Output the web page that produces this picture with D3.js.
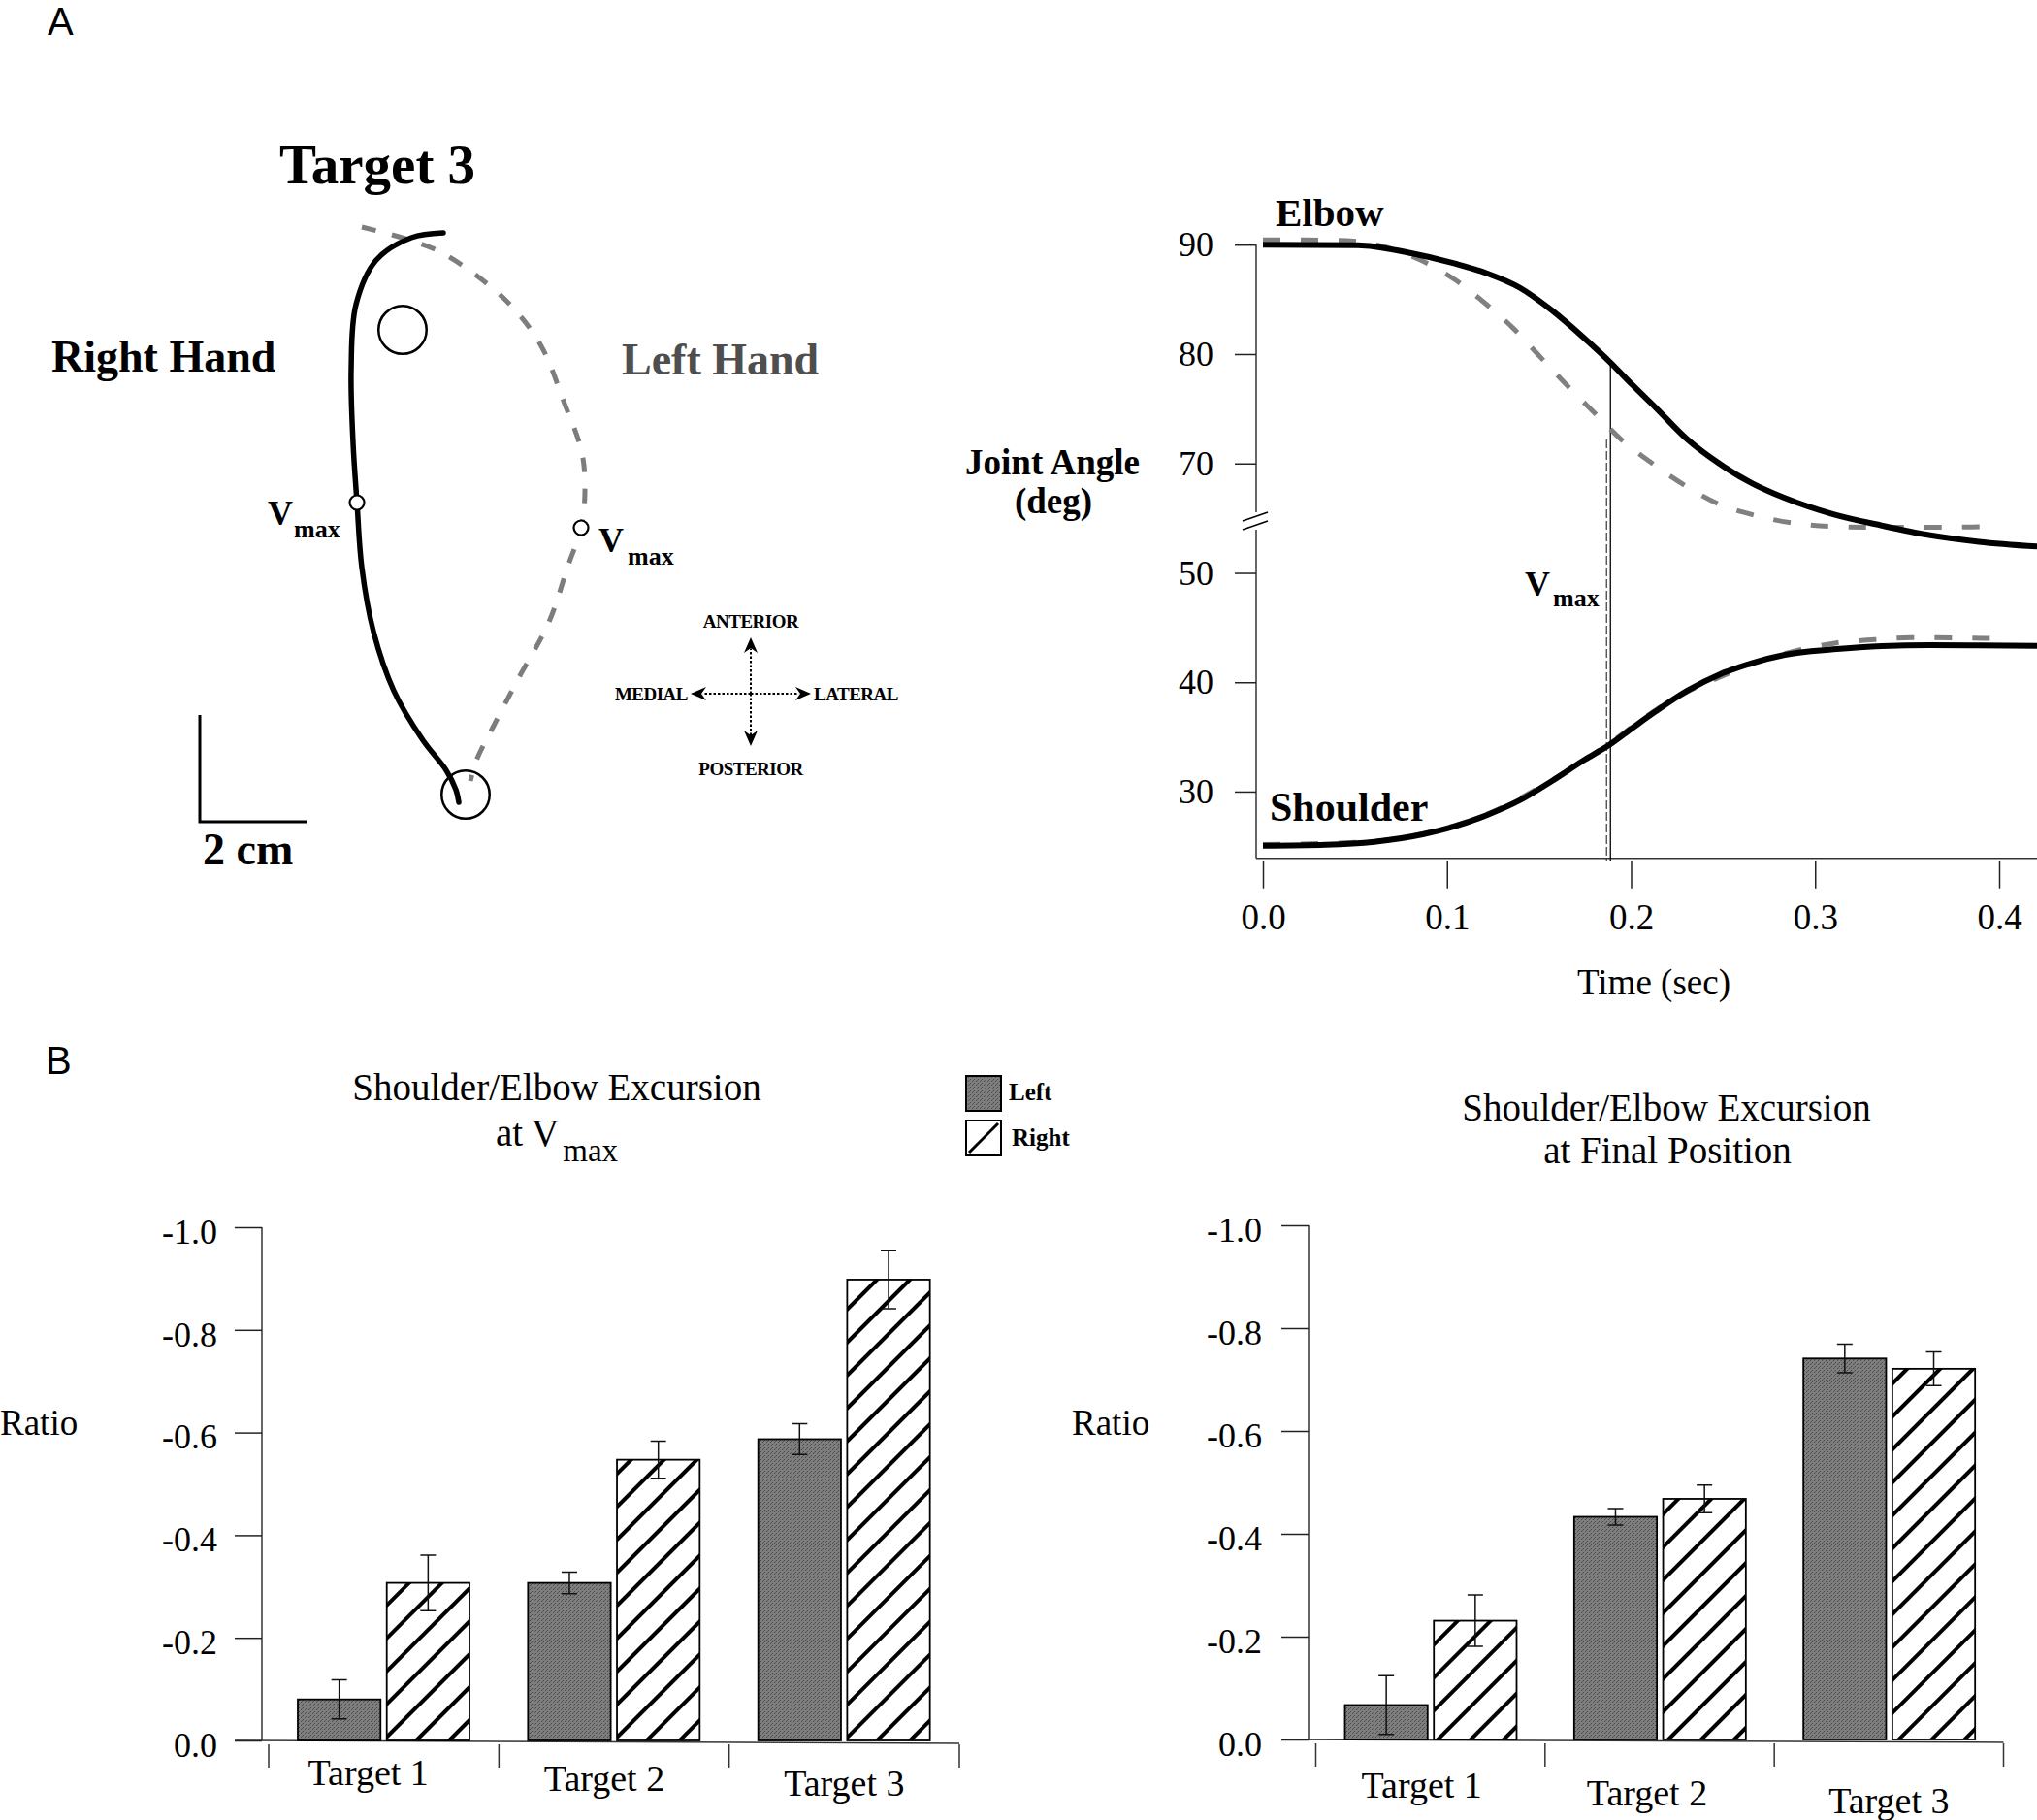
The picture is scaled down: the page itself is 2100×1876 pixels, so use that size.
<!DOCTYPE html>
<html><head><meta charset="utf-8">
<script src="https://cdn.jsdelivr.net/npm/d3@7"></script>
<style>html,body{margin:0;padding:0;background:#fff}</style>
</head><body>
<svg id="c" width="2100" height="1876"></svg>
<script>
// ---------------- DATA ----------------
// Panel A (left): hand paths in cm, origin = start target
const rightHandPath = [[-0.418,10.527],[-1.018,10.436],[-1.673,10.018],[-2.055,9.182],[-2.145,7.964],[-2.109,6.582],[-2.036,5.473],[-1.945,4.255],[-1.727,3.055],[-1.345,1.945],[-0.8,1.018],[-0.364,0.455],[-0.182,0.091],[-0.127,-0.145]];
const leftHandPath = [[-1.945,10.636],[-1.018,10.382],[-0.364,10.109],[0.745,9.273],[1.4,8.436],[1.855,7.327],[2.182,6.4],[2.236,5.655],[2.164,5.0],[1.909,4.255],[1.564,3.236],[0.964,2.127],[0.527,1.291],[0.2,0.636],[0.091,0.255]];
const targetPos = [-1.182, 8.709];
const startPos = [0, 0];
const targetRadiusCm = 0.45;
const rightVmaxPos = [-2.036, 5.473];
const leftVmaxPos = [2.164, 5.0];
const scaleBarCm = 2;

// Panel A (right): joint angles vs time [sec, deg]
const timeTicks = [0, 0.1, 0.2, 0.3, 0.4];
const angleTicks = [30, 40, 50, 70, 80, 90];
const elbowRight = [[0,90.0],[.0516,89.96],[.078,89.31],[.1043,88.27],[.1217,87.38],[.1397,86.05],[.157,83.99],[.1744,81.48],[.1886,79.26],[.2007,77.19],[.2133,75.12],[.2308,72.17],[.2483,69.95],[.2659,68.17],[.2835,66.85],[.3099,65.36],[.3362,64.33],[.3626,63.44],[.3889,62.85],[.4206,62.41]];
const elbowLeft = [[0,90.45],[.041,90.4],[.0859,88.57],[.1043,86.8],[.1202,84.72],[.136,82.36],[.1509,79.7],[.1658,77.04],[.1798,74.68],[.1948,72.17],[.2114,70.02],[.229,68.02],[.2483,66.25],[.2686,65.21],[.2887,64.54],[.3099,64.24],[.331,64.18],[.352,64.18],[.3714,64.18],[.3967,64.24]];
const shoulderRight = [[0,25.05],[.0341,25.14],[.0605,25.41],[.0868,26.09],[.1043,26.83],[.1219,27.87],[.1395,29.2],[.157,30.97],[.1746,32.9],[.1878,34.23],[.201,35.85],[.2133,37.33],[.2308,39.25],[.2484,40.73],[.266,41.77],[.2835,42.51],[.3099,43.01],[.3362,43.31],[.3626,43.39],[.3889,43.37],[.4206,43.33]];
const shoulderLeft = [[0,25.15],[.0605,25.45],[.0868,26.15],[.1219,27.95],[.157,31.05],[.1878,34.35],[.2133,37.45],[.2308,39.15],[.2519,40.73],[.2712,42.0],[.2914,42.95],[.3115,43.6],[.3326,43.9],[.352,44.08],[.3968,44.0]];
const vmaxTime = 0.1888;
const elbowRightAtVmax = 79.2;
const elbowLeftAtVmax = 72.2;

// Panel B: ratios
const targets = ["Target 1", "Target 2", "Target 3"];
const hands = ["Left", "Right"];
const ratioTicks = [0, -0.2, -0.4, -0.6, -0.8, -1.0];
const vmaxLeft = [-0.080, -0.307, -0.587];
const vmaxRight = [-0.307, -0.547, -0.898];
const vmaxLeftErr = [0.038, 0.021, 0.030];
const vmaxRightErr = [0.054, 0.036, 0.057];
const finalLeft = [-0.067, -0.433, -0.741];
const finalRight = [-0.231, -0.468, -0.721];
const finalLeftErr = [0.057, 0.016, 0.028];
const finalRightErr = [0.050, 0.027, 0.033];

// ---------------- DRAW ----------------
const serif = "'Liberation Serif','Times New Roman',serif";
const sans = "'Liberation Sans',Arial,sans-serif";
const svg = d3.select("#c");
svg.append("rect").attr("width", 2100).attr("height", 1876).attr("fill", "#fff");
const fmt1 = d => d3.format(".1f")(d).replace("\u2212", "-");

const defs = svg.append("defs");
const hatch = defs.append("pattern").attr("id", "hatch").attr("patternUnits", "userSpaceOnUse")
  .attr("width", 24).attr("height", 24).attr("patternTransform", "rotate(45)");
hatch.append("rect").attr("width", 24).attr("height", 24).attr("fill", "#fff");
hatch.append("line").attr("x1", 12).attr("y1", -2).attr("x2", 12).attr("y2", 26).attr("stroke", "#000").attr("stroke-width", 4);
const stip = defs.append("pattern").attr("id", "stip").attr("patternUnits", "userSpaceOnUse").attr("width", 4).attr("height", 4);
stip.append("rect").attr("width", 4).attr("height", 4).attr("fill", "#7e7e7e");
stip.append("rect").attr("x", 0).attr("y", 0).attr("width", 1).attr("height", 1).attr("fill", "#474747");
stip.append("rect").attr("x", 2).attr("y", 2).attr("width", 1).attr("height", 1).attr("fill", "#474747");
stip.append("rect").attr("x", 3).attr("y", 1).attr("width", 1).attr("height", 1).attr("fill", "#5a5a5a");

function text(g, x, y, s, size, o = {}) {
  return g.append("text").attr("x", x).attr("y", y).text(s)
    .attr("font-family", o.family || serif).attr("font-size", size)
    .attr("font-weight", o.bold ? "bold" : "normal")
    .attr("text-anchor", o.anchor || "start").attr("fill", o.fill || "#000");
}

// Panel labels
text(svg, 49, 36, "A", 40, {family: sans});
text(svg, 47, 1107, "B", 40, {family: sans});

// ---- Panel A left: trajectories ----
const gA = svg.append("g");
const xH = d3.scaleLinear().domain([0, 1]).range([480, 535]);
const yH = d3.scaleLinear().domain([0, 1]).range([819, 764]);
const handLine = d3.line().x(d => xH(d[0])).y(d => yH(d[1])).curve(d3.curveCatmullRom.alpha(0.5));

text(gA, 288, 189, "Target 3", 57, {bold: true});
text(gA, 53, 383, "Right Hand", 46, {bold: true});
text(gA, 641, 386, "Left Hand", 46, {bold: true, fill: "#4e4e4e"});

const rPx = xH(targetRadiusCm) - xH(0);
gA.append("circle").attr("cx", xH(targetPos[0])).attr("cy", yH(targetPos[1])).attr("r", rPx)
  .attr("fill", "none").attr("stroke", "#000").attr("stroke-width", 2.5);
gA.append("circle").attr("cx", xH(startPos[0])).attr("cy", yH(startPos[1])).attr("r", rPx)
  .attr("fill", "none").attr("stroke", "#000").attr("stroke-width", 2.5);

gA.append("path").attr("d", handLine(leftHandPath)).attr("fill", "none")
  .attr("stroke", "#7d7d7d").attr("stroke-width", 5).attr("stroke-dasharray", "15,17");
gA.append("path").attr("d", handLine(rightHandPath)).attr("fill", "none")
  .attr("stroke", "#000").attr("stroke-width", 5.5).attr("stroke-linecap", "round");

[rightVmaxPos, leftVmaxPos].forEach(p => {
  gA.append("circle").attr("cx", xH(p[0])).attr("cy", yH(p[1])).attr("r", 7.5)
    .attr("fill", "#fff").attr("stroke", "#000").attr("stroke-width", 2.2);
});
(function () {
  const t1 = gA.append("text").attr("font-family", serif).attr("font-weight", "bold");
  t1.append("tspan").attr("x", xH(rightVmaxPos[0]) - 92).attr("y", yH(rightVmaxPos[1]) + 23).attr("font-size", 36).text("V");
  t1.append("tspan").attr("x", xH(rightVmaxPos[0]) - 65).attr("y", yH(rightVmaxPos[1]) + 36).attr("font-size", 26).text("max");
  const t2 = gA.append("text").attr("font-family", serif).attr("font-weight", "bold");
  t2.append("tspan").attr("x", xH(leftVmaxPos[0]) + 18).attr("y", yH(leftVmaxPos[1]) + 25).attr("font-size", 36).text("V");
  t2.append("tspan").attr("x", xH(leftVmaxPos[0]) + 48).attr("y", yH(leftVmaxPos[1]) + 38).attr("font-size", 26).text("max");
})();

// scale bar
const sbX = 206, sbY = 847;
const sbLen = xH(scaleBarCm) - xH(0);
gA.append("path").attr("d", `M${sbX},${sbY - sbLen}V${sbY}H${sbX + sbLen}`)
  .attr("fill", "none").attr("stroke", "#000").attr("stroke-width", 3);
text(gA, 209, 891, "2 cm", 46, {bold: true});

// compass
const cx = 774, cy = 715;
const arms = [[0, -58], [0, 54], [-62, 0], [62, 0]];
arms.forEach(a => {
  gA.append("line").attr("x1", cx).attr("y1", cy).attr("x2", cx + a[0] * 0.8).attr("y2", cy + a[1] * 0.8)
    .attr("stroke", "#000").attr("stroke-width", 2).attr("stroke-dasharray", "2.5,2");
  const ang = Math.atan2(a[1], a[0]) * 180 / Math.PI;
  gA.append("path").attr("d", "M0,0L-16,-7L-11,0L-16,7Z")
    .attr("transform", `translate(${cx + a[0]},${cy + a[1]}) rotate(${ang})`).attr("fill", "#000");
});
text(gA, cx, 647, "ANTERIOR", 19, {bold: true, anchor: "middle"}).attr("letter-spacing", -0.5);
text(gA, cx, 799, "POSTERIOR", 19, {bold: true, anchor: "middle"}).attr("letter-spacing", -0.5);
text(gA, 709, 722, "MEDIAL", 19, {bold: true, anchor: "end"}).attr("letter-spacing", -0.5);
text(gA, 839, 722, "LATERAL", 19, {bold: true}).attr("letter-spacing", -0.5);

// ---- Panel A right: joint angles ----
const gJ = svg.append("g");
const xT = d3.scaleLinear().domain([0, 0.4]).range([1302, 2061]);
// broken axis: 52..62 deg removed
const yA = d3.scaleLinear().domain([23.9, 52, 62, 90]).range([884.7, 568, 568, 252.2]);
const angLine = d3.line().x(d => xT(d[0])).y(d => yA(d[1])).curve(d3.curveMonotoneX);
const axX = 1295, axBottom = 884.7;

gJ.append("line").attr("x1", axX).attr("x2", axX).attr("y1", yA(90)).attr("y2", 528).attr("stroke", "#333").attr("stroke-width", 1.5);
gJ.append("line").attr("x1", axX).attr("x2", axX).attr("y1", 546).attr("y2", axBottom).attr("stroke", "#333").attr("stroke-width", 1.5);
gJ.append("line").attr("x1", axX).attr("x2", 2100).attr("y1", axBottom).attr("y2", axBottom).attr("stroke", "#333").attr("stroke-width", 1.5);
gJ.append("line").attr("x1", 1281).attr("y1", 537).attr("x2", 1307).attr("y2", 528).attr("stroke", "#000").attr("stroke-width", 1.5);
gJ.append("line").attr("x1", 1281).attr("y1", 546).attr("x2", 1307).attr("y2", 537).attr("stroke", "#000").attr("stroke-width", 1.5);

const yAxisJ = gJ.append("g").attr("transform", `translate(${axX},0)`)
  .call(d3.axisLeft(yA).tickValues(angleTicks).tickSize(22).tickPadding(22).tickFormat(d3.format("d")));
yAxisJ.select(".domain").remove();
yAxisJ.selectAll(".tick line").attr("stroke", "#222").attr("stroke-width", 1.5);
yAxisJ.selectAll(".tick text").attr("font-family", serif).attr("font-size", 36).attr("fill", "#000");

const xAxisJ = gJ.append("g").attr("transform", `translate(0,${axBottom + 3})`)
  .call(d3.axisBottom(xT).tickValues(timeTicks).tickSize(28).tickPadding(16).tickFormat(fmt1));
xAxisJ.select(".domain").remove();
xAxisJ.selectAll(".tick line").attr("stroke", "#222").attr("stroke-width", 1.5);
xAxisJ.selectAll(".tick text").attr("font-family", serif).attr("font-size", 37).attr("fill", "#000");

// Vmax lines
gJ.append("line").attr("x1", xT(vmaxTime)).attr("x2", xT(vmaxTime)).attr("y1", yA(elbowRightAtVmax)).attr("y2", axBottom + 3)
  .attr("stroke", "#000").attr("stroke-width", 1.3);
gJ.append("line").attr("x1", xT(vmaxTime) - 4).attr("x2", xT(vmaxTime) - 4).attr("y1", yA(elbowLeftAtVmax)).attr("y2", axBottom + 3)
  .attr("stroke", "#444").attr("stroke-width", 1.3).attr("stroke-dasharray", "9,3");

[elbowLeft, shoulderLeft].forEach(d => gJ.append("path").attr("d", angLine(d)).attr("fill", "none")
  .attr("stroke", "#808080").attr("stroke-width", 5).attr("stroke-dasharray", "18,21"));
[elbowRight, shoulderRight].forEach(d => gJ.append("path").attr("d", angLine(d)).attr("fill", "none")
  .attr("stroke", "#000").attr("stroke-width", 6));

text(gJ, 1315, 233, "Elbow", 41, {bold: true});
text(gJ, 1309, 846, "Shoulder", 42, {bold: true});
text(gJ, 1085, 489, "Joint Angle", 37, {bold: true, anchor: "middle"});
text(gJ, 1086, 529, "(deg)", 37, {bold: true, anchor: "middle"});
(function () {
  const t = gJ.append("text").attr("font-family", serif).attr("font-weight", "bold");
  t.append("tspan").attr("x", 1572).attr("y", 614).attr("font-size", 36).text("V");
  t.append("tspan").attr("x", 1601).attr("y", 625).attr("font-size", 26).text("max");
})();
text(gJ, 1705, 1025, "Time (sec)", 37, {anchor: "middle"});

// ---- Panel B ----
function barChart(opt) {
  const g = svg.append("g");
  const y = d3.scaleLinear().domain([0, -1]).range([opt.y0, opt.y1]);
  const x0 = d3.scaleBand().domain(targets).range([opt.bandL, opt.bandR]);
  const x1 = d3.scaleBand().domain(hands).range([30, 207]).paddingInner(0.07);

  g.append("line").attr("x1", opt.axX).attr("x2", opt.axX).attr("y1", y(-1)).attr("y2", y(0)).attr("stroke", "#333").attr("stroke-width", 1.5);
  g.append("line").attr("x1", opt.axX - 28).attr("x2", opt.bandR).attr("y1", y(0)).attr("y2", y(0) + 3).attr("stroke", "#333").attr("stroke-width", 1.5);
  const ya = g.append("g").attr("transform", `translate(${opt.axX},0)`)
    .call(d3.axisLeft(y).tickValues(ratioTicks).tickSize(28).tickPadding(opt.pad).tickFormat(fmt1));
  ya.select(".domain").remove();
  ya.selectAll(".tick line").attr("stroke", "#222").attr("stroke-width", 1.5);
  ya.selectAll(".tick text").attr("font-family", serif).attr("font-size", 36).attr("fill", "#000").attr("dy", "0.45em");
  const bounds = targets.map(t => x0(t)).concat([opt.bandR]);
  g.selectAll(".bnd").data(bounds).join("line").attr("x1", d => d).attr("x2", d => d)
    .attr("y1", y(0) + 4).attr("y2", y(0) + 28).attr("stroke", "#333").attr("stroke-width", 1.5);

  text(g, opt.ratioX, 1479, "Ratio", 37);

  targets.forEach((t, i) => {
    const vals = [opt.left[i], opt.right[i]];
    const errs = [opt.leftErr[i], opt.rightErr[i]];
    hands.forEach((h, j) => {
      const bx = x0(t) + x1(h), bw = x1.bandwidth();
      g.append("rect").attr("x", bx).attr("y", y(vals[j])).attr("width", bw).attr("height", y(0) - y(vals[j]))
        .attr("fill", j === 0 ? "url(#stip)" : "url(#hatch)").attr("stroke", "#000").attr("stroke-width", 1.8);
      const c = bx + bw / 2;
      const top = y(vals[j] - errs[j]), bot = y(vals[j] + errs[j]);
      g.append("path").attr("d", `M${c},${top}V${bot}M${c - 8},${top}H${c + 8}M${c - 8},${bot}H${c + 8}`)
        .attr("stroke", "#111").attr("stroke-width", 1.5).attr("fill", "none");
    });
    text(g, x0(t) + x0.bandwidth() / 2 + opt.labDx[i], opt.labY + i * opt.labStep, t, 38, {anchor: "middle"});
  });
  return g;
}

barChart({y0: 1794, y1: 1265, bandL: 277, bandR: 989, axX: 270, pad: 18, ratioX: 0,
  left: vmaxLeft, right: vmaxRight, leftErr: vmaxLeftErr, rightErr: vmaxRightErr,
  labDx: [-16, -10, 0], labY: 1840, labStep: 5.5});
barChart({y0: 1793, y1: 1263, bandL: 1356.5, bandR: 2065.5, axX: 1349, pad: 20, ratioX: 1105,
  left: finalLeft, right: finalRight, leftErr: finalLeftErr, rightErr: finalRightErr,
  labDx: [-9, -13, 0], labY: 1853, labStep: 8});

text(svg, 574, 1134, "Shoulder/Elbow Excursion", 39, {anchor: "middle"});
(function () {
  const t = svg.append("text").attr("x", 574).attr("y", 1181).attr("font-family", serif).attr("font-size", 39).attr("text-anchor", "middle");
  t.append("tspan").text("at V");
  t.append("tspan").attr("font-size", 33).attr("dy", 16).attr("dx", 4).text("max");
})();
text(svg, 1718, 1155, "Shoulder/Elbow Excursion", 39, {anchor: "middle"});
text(svg, 1719, 1199, "at Final Position", 39, {anchor: "middle"});

const lg = svg.append("g");
lg.append("rect").attr("x", 996).attr("y", 1109).attr("width", 36).attr("height", 36)
  .attr("fill", "url(#stip)").attr("stroke", "#000").attr("stroke-width", 2);
lg.append("rect").attr("x", 996).attr("y", 1155).attr("width", 36).attr("height", 36)
  .attr("fill", "#fff").attr("stroke", "#000").attr("stroke-width", 2);
lg.append("line").attr("x1", 999).attr("y1", 1188).attr("x2", 1029).attr("y2", 1158).attr("stroke", "#000").attr("stroke-width", 3);
text(lg, 1040, 1134, hands[0], 25, {bold: true});
text(lg, 1043, 1181, hands[1], 25, {bold: true});
</script>
</body></html>
